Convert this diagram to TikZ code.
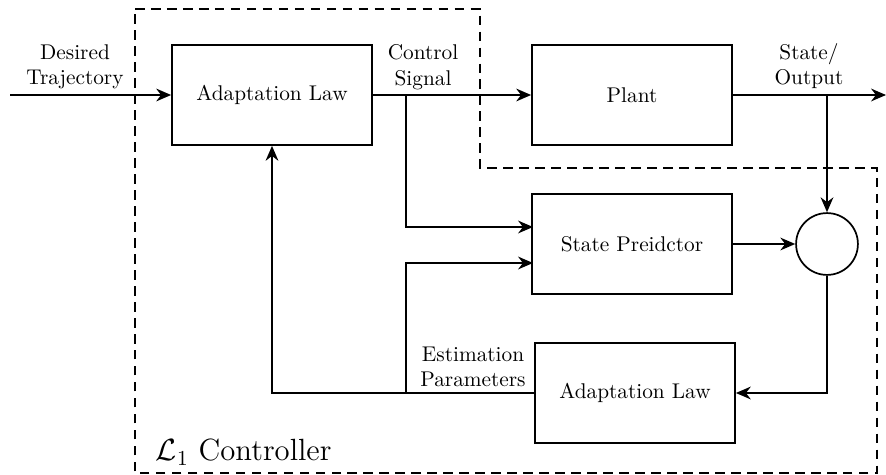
\documentclass[tikz,border=0pt]{standalone}
\usetikzlibrary{arrows.meta}

\begin{document}
\begin{tikzpicture}[x=0.0165cm, y=-0.0165cm, >={Stealth[length=7pt, width=6pt]}, line width=0.8pt]
        \tikzset{block/.style = {draw, minimum width=3.3cm, minimum height=1.65cm},
                 sumnode/.style = {draw, circle, minimum size=1.02cm},
                 lbl/.style = {align=center, inner sep=1pt}}

        \useasboundingbox (0, 0) rectangle (886, 475);

        % controller boundary
        \draw[dash pattern=on 4.5pt off 3pt] (135, 9) -- (480, 9) -- (480, 168) -- (877, 168)
            -- (877, 473) -- (135, 473) -- cycle;

        \node[block] (al) at (272, 95) {Adaptation Law};
        \node[block] (plant) at (632, 95) {Plant};
        \node[block] (sp) at (632, 244) {State Preidctor};
        \node[block] (al2) at (635, 393) {Adaptation Law};
        \node[sumnode] (sum) at (827, 244) {};

        \node[lbl] (dt) at (75, 67) {Desired\\Trajectory};
        \node[lbl] (cl) at (423, 67) {Control\\Signal};
        \node[lbl] (so) at (809, 66) {State/\\Output};
        \node[lbl] (ep) at (473, 367) {Estimation\\Parameters};
        \node[anchor=west, inner sep=0pt] (ctl) at (155, 452) {\Large $\mathcal{L}_1$ Controller};

        \coordinate (in) at (10, 95);
        \coordinate (out) at (886, 95);
        \coordinate (cs) at (406, 95);
        \coordinate (ob) at (827, 95);
        \coordinate (eb) at (406, 393);
        \coordinate (in1) at (533, 227);
        \coordinate (in2) at (533, 263);

        \draw[->] (in) -- (al.west);
        \draw[->] (al) -- (plant);
        \draw[->] (plant) -- (out);
        \draw[->] (cs) |- (in1);
        \draw[->] (ob) -- (sum);
        \draw[->] (sp) -- (sum);
        \draw[->] (sum) |- (al2);
        \draw[->] (al2.west) -| (al);
        \draw[->] (eb) |- (in2);

    \end{tikzpicture}
\end{document}
